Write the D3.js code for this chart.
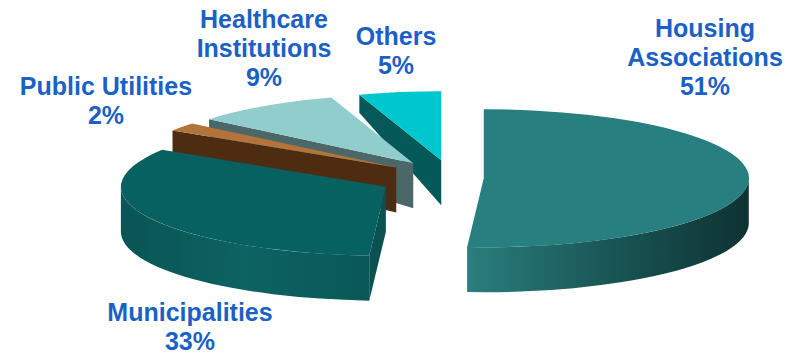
<!DOCTYPE html>
<html><head><meta charset="utf-8">
<script src="https://cdn.jsdelivr.net/npm/d3@7"></script>
<style>body{margin:0;background:#fff}svg{display:block}</style>
</head><body><svg id="c" width="795" height="354"></svg>
<script>
const categories = ["Housing Associations","Municipalities","Public Utilities","Healthcare Institutions","Others"];
const values = [51,33,2,9,5];
const nameLines = [["Housing","Associations"],["Municipalities"],["Public Utilities"],["Healthcare","Institutions"],["Others"]];
const topColors = ["#27807f","#076161","#b2743a","#91cdcd","#00c6cd"];
const faceColors = ["#1d6a6a","#0a5252","#4e2c12","#4c6767","#055959"];
const wallColors = [["#2a7e7e","#1a5656","#0e3232"],["#0a5555","#0d6262","#0a5858"],["#4e2c12","#4e2c12","#4e2c12"],["#4c6767","#4c6767","#4c6767"],["#055959","#055959","#055959"]];
const explode = [0.12,0.28,0.26,0.26,0.26];
const labelPos = [[705,37],[190,321],[106,95],[264,28],[396,45]];

const cx=452, cy=178, rx=265, ry=69, D=45;
const svg = d3.select("#c");
const defs = svg.append("defs");

const pie = d3.pie().sort(null).value(d=>d.v).startAngle(0).endAngle(2*Math.PI);
const arcs = pie(categories.map((c,i)=>({c, v: values[i], i})));

function P(c,a,r){ return [c[0]+rx*r*Math.sin(a), c[1]-ry*r*Math.cos(a)]; }
function dep(a,r){ const z=-r*Math.cos(a); return D*(1+0.63*Math.min(0,z)); }
const f = p => p[0].toFixed(2)+","+p[1].toFixed(2);

arcs.forEach(d=>{
  const m=(d.startAngle+d.endAngle)/2, e=explode[d.index];
  d.center=[cx+e*rx*Math.sin(m), cy-e*ry*Math.cos(m)];
});
const order = arcs.slice().sort((a,b)=>a.center[1]-b.center[1]);

const g = svg.append("g");
order.forEach(d=>{
  const i=d.index, c=d.center, a0=d.startAngle, a1=d.endAngle;
  const sg = g.append("g");
  const stroke = {"stroke":"#0d2222","stroke-opacity":0.55,"stroke-width":0.7,"stroke-linejoin":"round"};
  const face = a=>{
    const p=P(c,a,1), dd=dep(a,1);
    const path="M"+f(c)+"L"+f(p)+"L"+f([p[0],p[1]+dd])+"L"+f([c[0],c[1]+D])+"Z";
    sg.append("path").attr("d",path).attr("fill",faceColors[i]).attr(stroke);
  };
  if(Math.sin(a0)< -1e-6) face(a0);
  if(Math.sin(a1)> 1e-6) face(a1);
  const b0=Math.max(a0,Math.PI/2), b1=Math.min(a1,3*Math.PI/2);
  if(b1>b0){
    const gid="wg"+i;
    const p0=P(c,b0,1), p1=P(c,b1,1);
    const lg=defs.append("linearGradient").attr("id",gid).attr("gradientUnits","userSpaceOnUse")
      .attr("x1",Math.min(p0[0],p1[0])).attr("x2",Math.max(p0[0],p1[0])).attr("y1",0).attr("y2",0);
    wallColors[i].forEach((col,k)=>lg.append("stop").attr("offset",k/(wallColors[i].length-1)).attr("stop-color",col));
    const path="M"+f(p0)+"A"+rx+","+ry+" 0 0 1 "+f(p1)+"L"+f([p1[0],p1[1]+D])+"A"+rx+","+ry+" 0 0 0 "+f([p0[0],p0[1]+D])+"Z";
    sg.append("path").attr("d",path).attr("fill","url(#"+gid+")").attr(stroke);
  }
  const large=(a1-a0>Math.PI)?1:0;
  const top="M"+f(c)+"L"+f(P(c,a0,1))+"A"+rx+","+ry+" 0 "+large+" 1 "+f(P(c,a1,1))+"Z";
  sg.append("path").attr("d",top).attr("fill",topColors[i]).attr(stroke);
});

const lab = svg.append("g").attr("font-family","'Liberation Sans', Arial, sans-serif")
  .attr("font-weight","bold").attr("font-size",25).attr("fill","#1b61c5").attr("text-anchor","middle");
arcs.forEach(d=>{
  const i=d.index, lines=nameLines[i].concat([values[i]+"%"]);
  const t=lab.append("text").attr("x",labelPos[i][0]).attr("y",labelPos[i][1]);
  lines.forEach((s,k)=>t.append("tspan").attr("x",labelPos[i][0]).attr("dy",k?29:0).text(s));
});
</script></body></html>
